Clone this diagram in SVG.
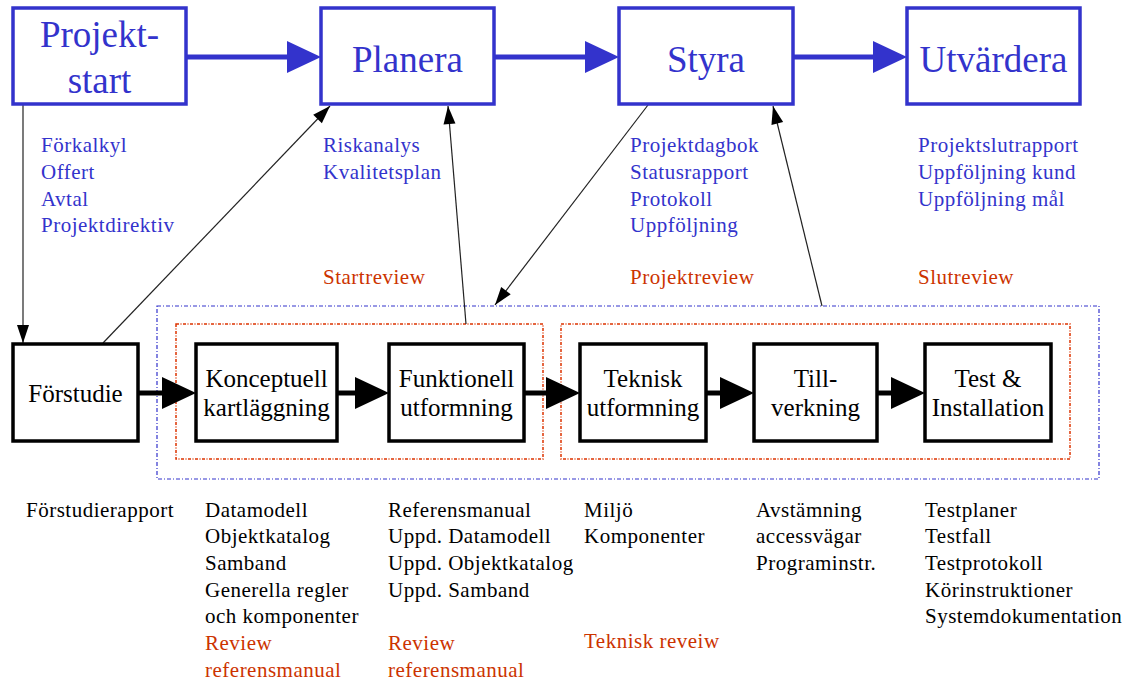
<svg xmlns="http://www.w3.org/2000/svg" width="1131" height="683" viewBox="0 0 1131 683">
<style>
text{font-family:"Liberation Serif","Times New Roman",serif}
.tb{fill:none;stroke:#3333cc;stroke-width:3.5}
.bb{fill:#fff;stroke:#000;stroke-width:3.5}
.tt{font-size:37px;fill:#3333cc;text-anchor:middle}
.bt{font-size:25px;fill:#000;text-anchor:middle}
.lb{font-size:21px;fill:#3333cc;letter-spacing:0.5px}
.lk{font-size:21px;fill:#000;letter-spacing:0.5px}
.lr{font-size:21px;fill:#cc3300;letter-spacing:0.5px}
.blue-arrow{stroke:#3333cc;stroke-width:5;fill:none}
.black-arrow{stroke:#000;stroke-width:5;fill:none}
.thin{stroke:#222;stroke-width:1.2;fill:none}
.dblue{fill:none;stroke:#3333cc;stroke-width:1.2;stroke-dasharray:4 2 1 2}
.dred{fill:none;stroke:#dd3300;stroke-width:1.5;stroke-dasharray:3 1.5 1 1.5}
</style>
<defs>
<marker id="hb" markerUnits="userSpaceOnUse" markerWidth="36" markerHeight="34" refX="0" refY="16" orient="auto" viewBox="0 0 36 34" overflow="visible">
<path d="M0,0 L34,16 L0,32 Z" fill="#3333cc"/>
</marker>
<marker id="hk" markerUnits="userSpaceOnUse" markerWidth="36" markerHeight="34" refX="0" refY="16" orient="auto" viewBox="0 0 36 34" overflow="visible">
<path d="M0,0 L34,16 L0,32 Z" fill="#000"/>
</marker>
<marker id="hs" markerUnits="userSpaceOnUse" markerWidth="20" markerHeight="14" refX="18" refY="6" orient="auto" viewBox="0 0 20 14" overflow="visible">
<path d="M0,0 L18,6 L0,12 Z" fill="#000"/>
</marker>
</defs>

<g id="review-frames">
<rect class="dblue" x="157" y="306" width="942" height="173"/>
<rect class="dred" x="176" y="324" width="367" height="135"/>
<rect class="dred" x="561" y="324" width="509" height="135"/>
</g>

<g id="connectors">
<line class="blue-arrow" x1="186" y1="57" x2="287" y2="57" marker-end="url(#hb)"/>
<line class="blue-arrow" x1="494" y1="57" x2="585" y2="57" marker-end="url(#hb)"/>
<line class="blue-arrow" x1="793" y1="57" x2="873" y2="57" marker-end="url(#hb)"/>
<line class="black-arrow" x1="138" y1="393" x2="162" y2="393" marker-end="url(#hk)"/>
<line class="black-arrow" x1="337" y1="393" x2="355" y2="393" marker-end="url(#hk)"/>
<line class="black-arrow" x1="524" y1="393" x2="546" y2="393" marker-end="url(#hk)"/>
<line class="black-arrow" x1="706" y1="393" x2="720" y2="393" marker-end="url(#hk)"/>
<line class="black-arrow" x1="877" y1="393" x2="891" y2="393" marker-end="url(#hk)"/>
<line class="thin" x1="23" y1="104" x2="23" y2="343" marker-end="url(#hs)"/>
<line class="thin" x1="103" y1="343" x2="330" y2="106" marker-end="url(#hs)"/>
<line class="thin" x1="466" y1="324" x2="448" y2="106" marker-end="url(#hs)"/>
<line class="thin" x1="648" y1="105" x2="495" y2="305" marker-end="url(#hs)"/>
<line class="thin" x1="822" y1="306" x2="773" y2="106" marker-end="url(#hs)"/>
</g>

<g id="projektstart">
<rect class="tb" x="13" y="8" width="173" height="96"/>
<text class="tt" x="99.5" y="47">Projekt-</text>
<text class="tt" x="99.5" y="93">start</text>
</g>
<g id="planera">
<rect class="tb" x="321" y="8" width="173" height="96"/>
<text class="tt" x="407.5" y="72">Planera</text>
</g>
<g id="styra">
<rect class="tb" x="619" y="8" width="174" height="96"/>
<text class="tt" x="706" y="72">Styra</text>
</g>
<g id="utvardera">
<rect class="tb" x="907" y="8" width="173" height="96"/>
<text class="tt" x="993.5" y="72">Utvärdera</text>
</g>

<g id="forstudie">
<rect class="bb" x="13" y="344" width="125" height="97"/>
<text class="bt" x="75.5" y="402">Förstudie</text>
</g>
<g id="konceptuell">
<rect class="bb" x="196" y="344" width="141" height="97"/>
<text class="bt" x="266.5" y="387">Konceptuell</text>
<text class="bt" x="266.5" y="416">kartläggning</text>
</g>
<g id="funktionell">
<rect class="bb" x="389" y="344" width="135" height="97"/>
<text class="bt" x="456.5" y="387">Funktionell</text>
<text class="bt" x="456.5" y="416">utformning</text>
</g>
<g id="teknisk">
<rect class="bb" x="580" y="344" width="126" height="97"/>
<text class="bt" x="643" y="387">Teknisk</text>
<text class="bt" x="643" y="416">utformning</text>
</g>
<g id="tillverkning">
<rect class="bb" x="754" y="344" width="123" height="97"/>
<text class="bt" x="815.5" y="387">Till-</text>
<text class="bt" x="815.5" y="416">verkning</text>
</g>
<g id="test">
<rect class="bb" x="925" y="344" width="126" height="97"/>
<text class="bt" x="988" y="387">Test &amp;</text>
<text class="bt" x="988" y="416">Installation</text>
</g>

<g id="top-labels">
<text class="lb" x="41" y="152">Förkalkyl</text>
<text class="lb" x="41" y="179">Offert</text>
<text class="lb" x="41" y="206">Avtal</text>
<text class="lb" x="41" y="232">Projektdirektiv</text>
<text class="lb" x="323" y="152">Riskanalys</text>
<text class="lb" x="323" y="179">Kvalitetsplan</text>
<text class="lr" x="323" y="284">Startreview</text>
<text class="lb" x="630" y="152">Projektdagbok</text>
<text class="lb" x="630" y="179">Statusrapport</text>
<text class="lb" x="630" y="206">Protokoll</text>
<text class="lb" x="630" y="232">Uppföljning</text>
<text class="lr" x="630" y="284">Projektreview</text>
<text class="lb" x="918" y="152">Projektslutrapport</text>
<text class="lb" x="918" y="179">Uppföljning kund</text>
<text class="lb" x="918" y="206">Uppföljning mål</text>
<text class="lr" x="918" y="284">Slutreview</text>
</g>

<g id="bottom-labels">
<text class="lk" x="26" y="517">Förstudierapport</text>
<text class="lk" x="205" y="517">Datamodell</text>
<text class="lk" x="205" y="543">Objektkatalog</text>
<text class="lk" x="205" y="570">Samband</text>
<text class="lk" x="205" y="597">Generella regler</text>
<text class="lk" x="205" y="623">och komponenter</text>
<text class="lr" x="205" y="650">Review</text>
<text class="lr" x="205" y="677">referensmanual</text>
<text class="lk" x="388" y="517">Referensmanual</text>
<text class="lk" x="388" y="543">Uppd. Datamodell</text>
<text class="lk" x="388" y="570">Uppd. Objektkatalog</text>
<text class="lk" x="388" y="597">Uppd. Samband</text>
<text class="lr" x="388" y="650">Review</text>
<text class="lr" x="388" y="677">referensmanual</text>
<text class="lk" x="584" y="517">Miljö</text>
<text class="lk" x="584" y="543">Komponenter</text>
<text class="lr" x="584" y="648">Teknisk reveiw</text>
<text class="lk" x="756" y="517">Avstämning</text>
<text class="lk" x="756" y="543">accessvägar</text>
<text class="lk" x="756" y="570">Programinstr.</text>
<text class="lk" x="925" y="517">Testplaner</text>
<text class="lk" x="925" y="543">Testfall</text>
<text class="lk" x="925" y="570">Testprotokoll</text>
<text class="lk" x="925" y="597">Körinstruktioner</text>
<text class="lk" x="925" y="623">Systemdokumentation</text>
</g>
</svg>
